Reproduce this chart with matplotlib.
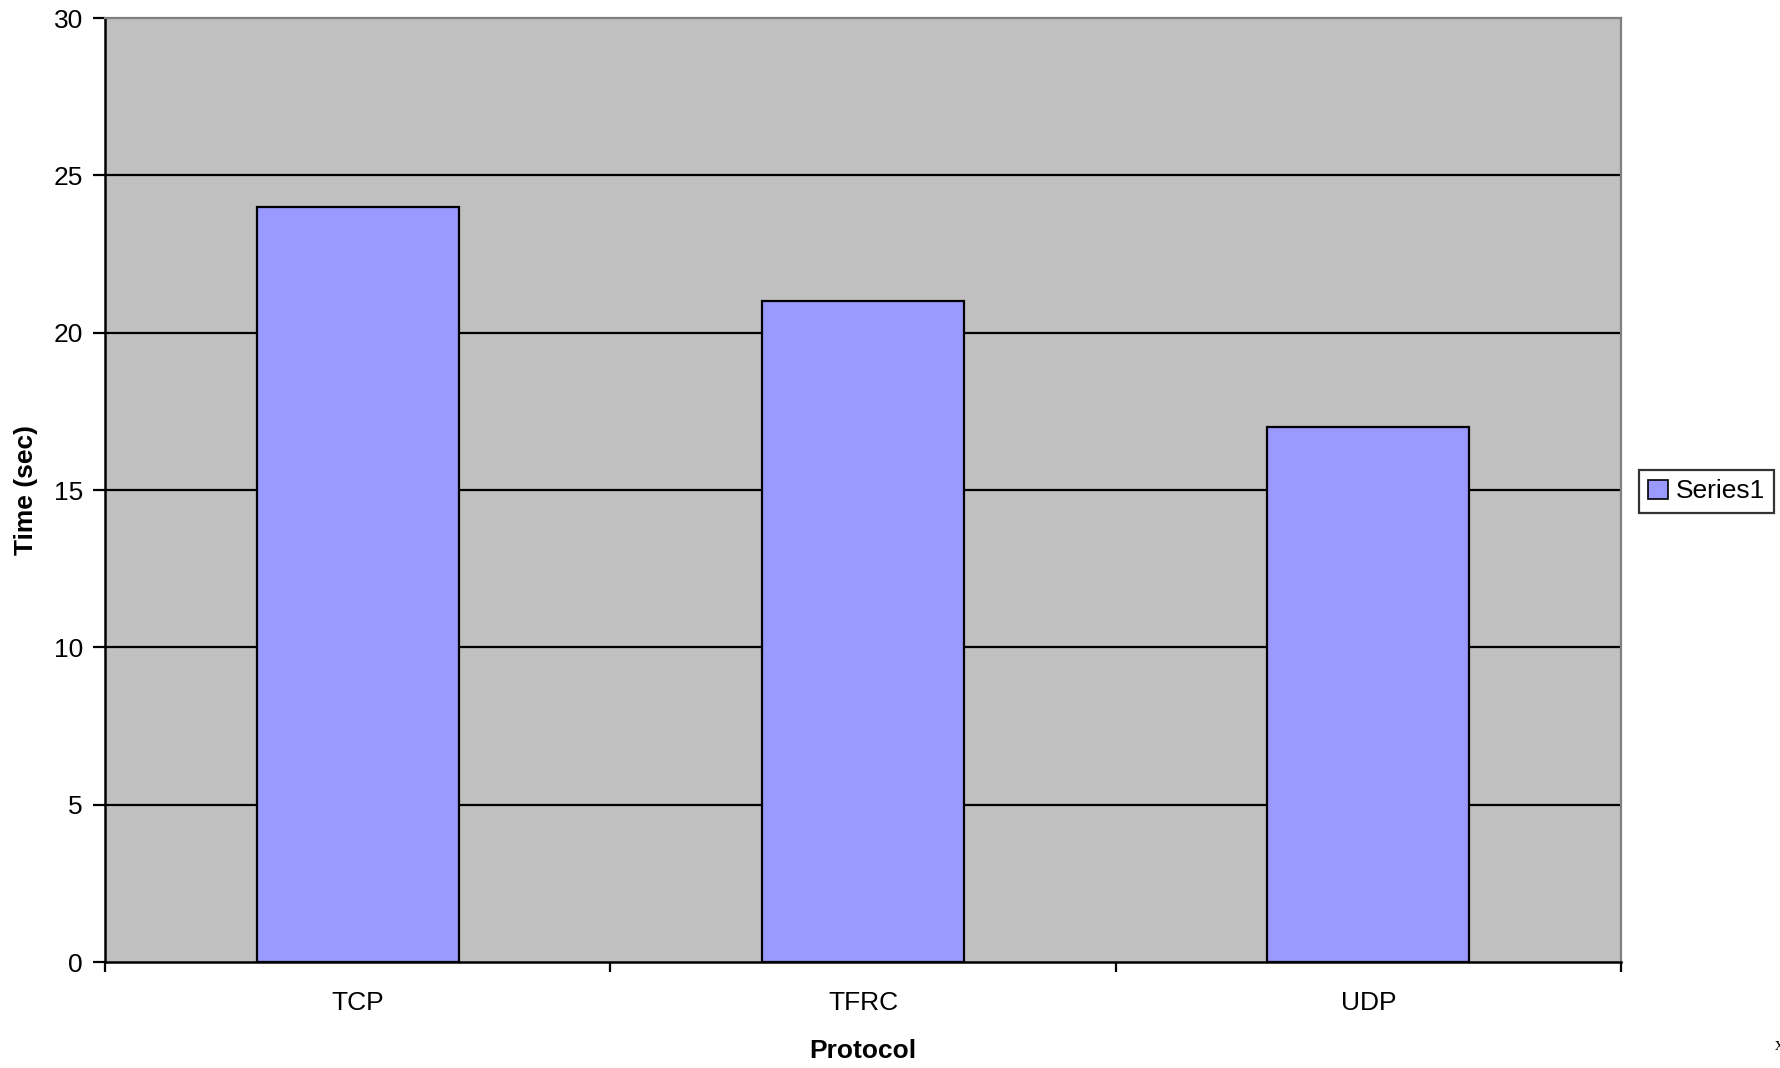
import matplotlib
matplotlib.use("Agg")
import matplotlib.pyplot as plt
from matplotlib.patches import Patch

protocols = ["TCP", "TFRC", "UDP"]
times = [24, 21, 17]
series_name = "Series1"
y_ticks = [0, 5, 10, 15, 20, 25, 30]

plt.rcParams["font.family"] = ["Liberation Sans", "DejaVu Sans"]

W, H = 1781, 1068
fig = plt.figure(figsize=(W / 100, H / 100), dpi=100)
ax = fig.add_axes([105 / W, 1 - 962 / H, (1621 - 105) / W, (962 - 18) / H])
ax.set_facecolor("#C0C0C0")

x = list(range(len(protocols)))
ax.bar(x, times, width=0.4, color="#9999FF", edgecolor="black", linewidth=1.6, zorder=3)

ax.set_xlim(-0.5, len(protocols) - 0.5)
ax.set_ylim(0, 30)
ax.set_yticks(y_ticks)
ax.set_yticklabels([str(v) for v in y_ticks])

# category labels centred, tick marks on category boundaries
ax.set_xticks([i - 0.5 for i in range(len(protocols) + 1)])
ax.set_xticklabels([""] * (len(protocols) + 1))
ax.set_xticks(x, minor=True)
ax.set_xticklabels(protocols, minor=True)
ax.tick_params(axis="x", which="minor", length=0, pad=21, labelsize=19)
ax.tick_params(axis="x", which="major", direction="out", length=7, width=1.6, color="black")
ax.tick_params(axis="y", direction="out", length=9, width=1.6, pad=7, labelsize=19)

for yv in y_ticks[1:-1]:
    ax.axhline(yv, color="black", linewidth=1.6, zorder=1)

for side in ("left", "bottom"):
    ax.spines[side].set_color("black")
    ax.spines[side].set_linewidth(1.8)
for side in ("top", "right"):
    ax.spines[side].set_color("#808080")
    ax.spines[side].set_linewidth(1.6)

ax.set_ylabel("Time (sec)", fontsize=19, fontweight="bold")
ax.yaxis.set_label_coords(-0.0442, 0.5)
ax.set_xlabel("Protocol", fontsize=19, fontweight="bold")
ax.xaxis.set_label_coords(0.5, -0.0816)

handle = Patch(facecolor="#9999FF", edgecolor="black", linewidth=1.2)
leg = fig.legend([handle], [series_name], loc="center",
                 bbox_to_anchor=(1706.5 / W, 1 - 491.5 / H),
                 fontsize=19, frameon=True, fancybox=False,
                 handlelength=0.75, handleheight=0.75, handletextpad=0.3,
                 borderpad=0.35, borderaxespad=0)
leg.get_frame().set_edgecolor("black")
leg.get_frame().set_linewidth(1.6)

fig.text(1775 / W, 1 - 1045 / H, "x", family="Liberation Serif", fontsize=13,
         ha="left", va="center")

fig.savefig("out.png", dpi=100, facecolor="white")
